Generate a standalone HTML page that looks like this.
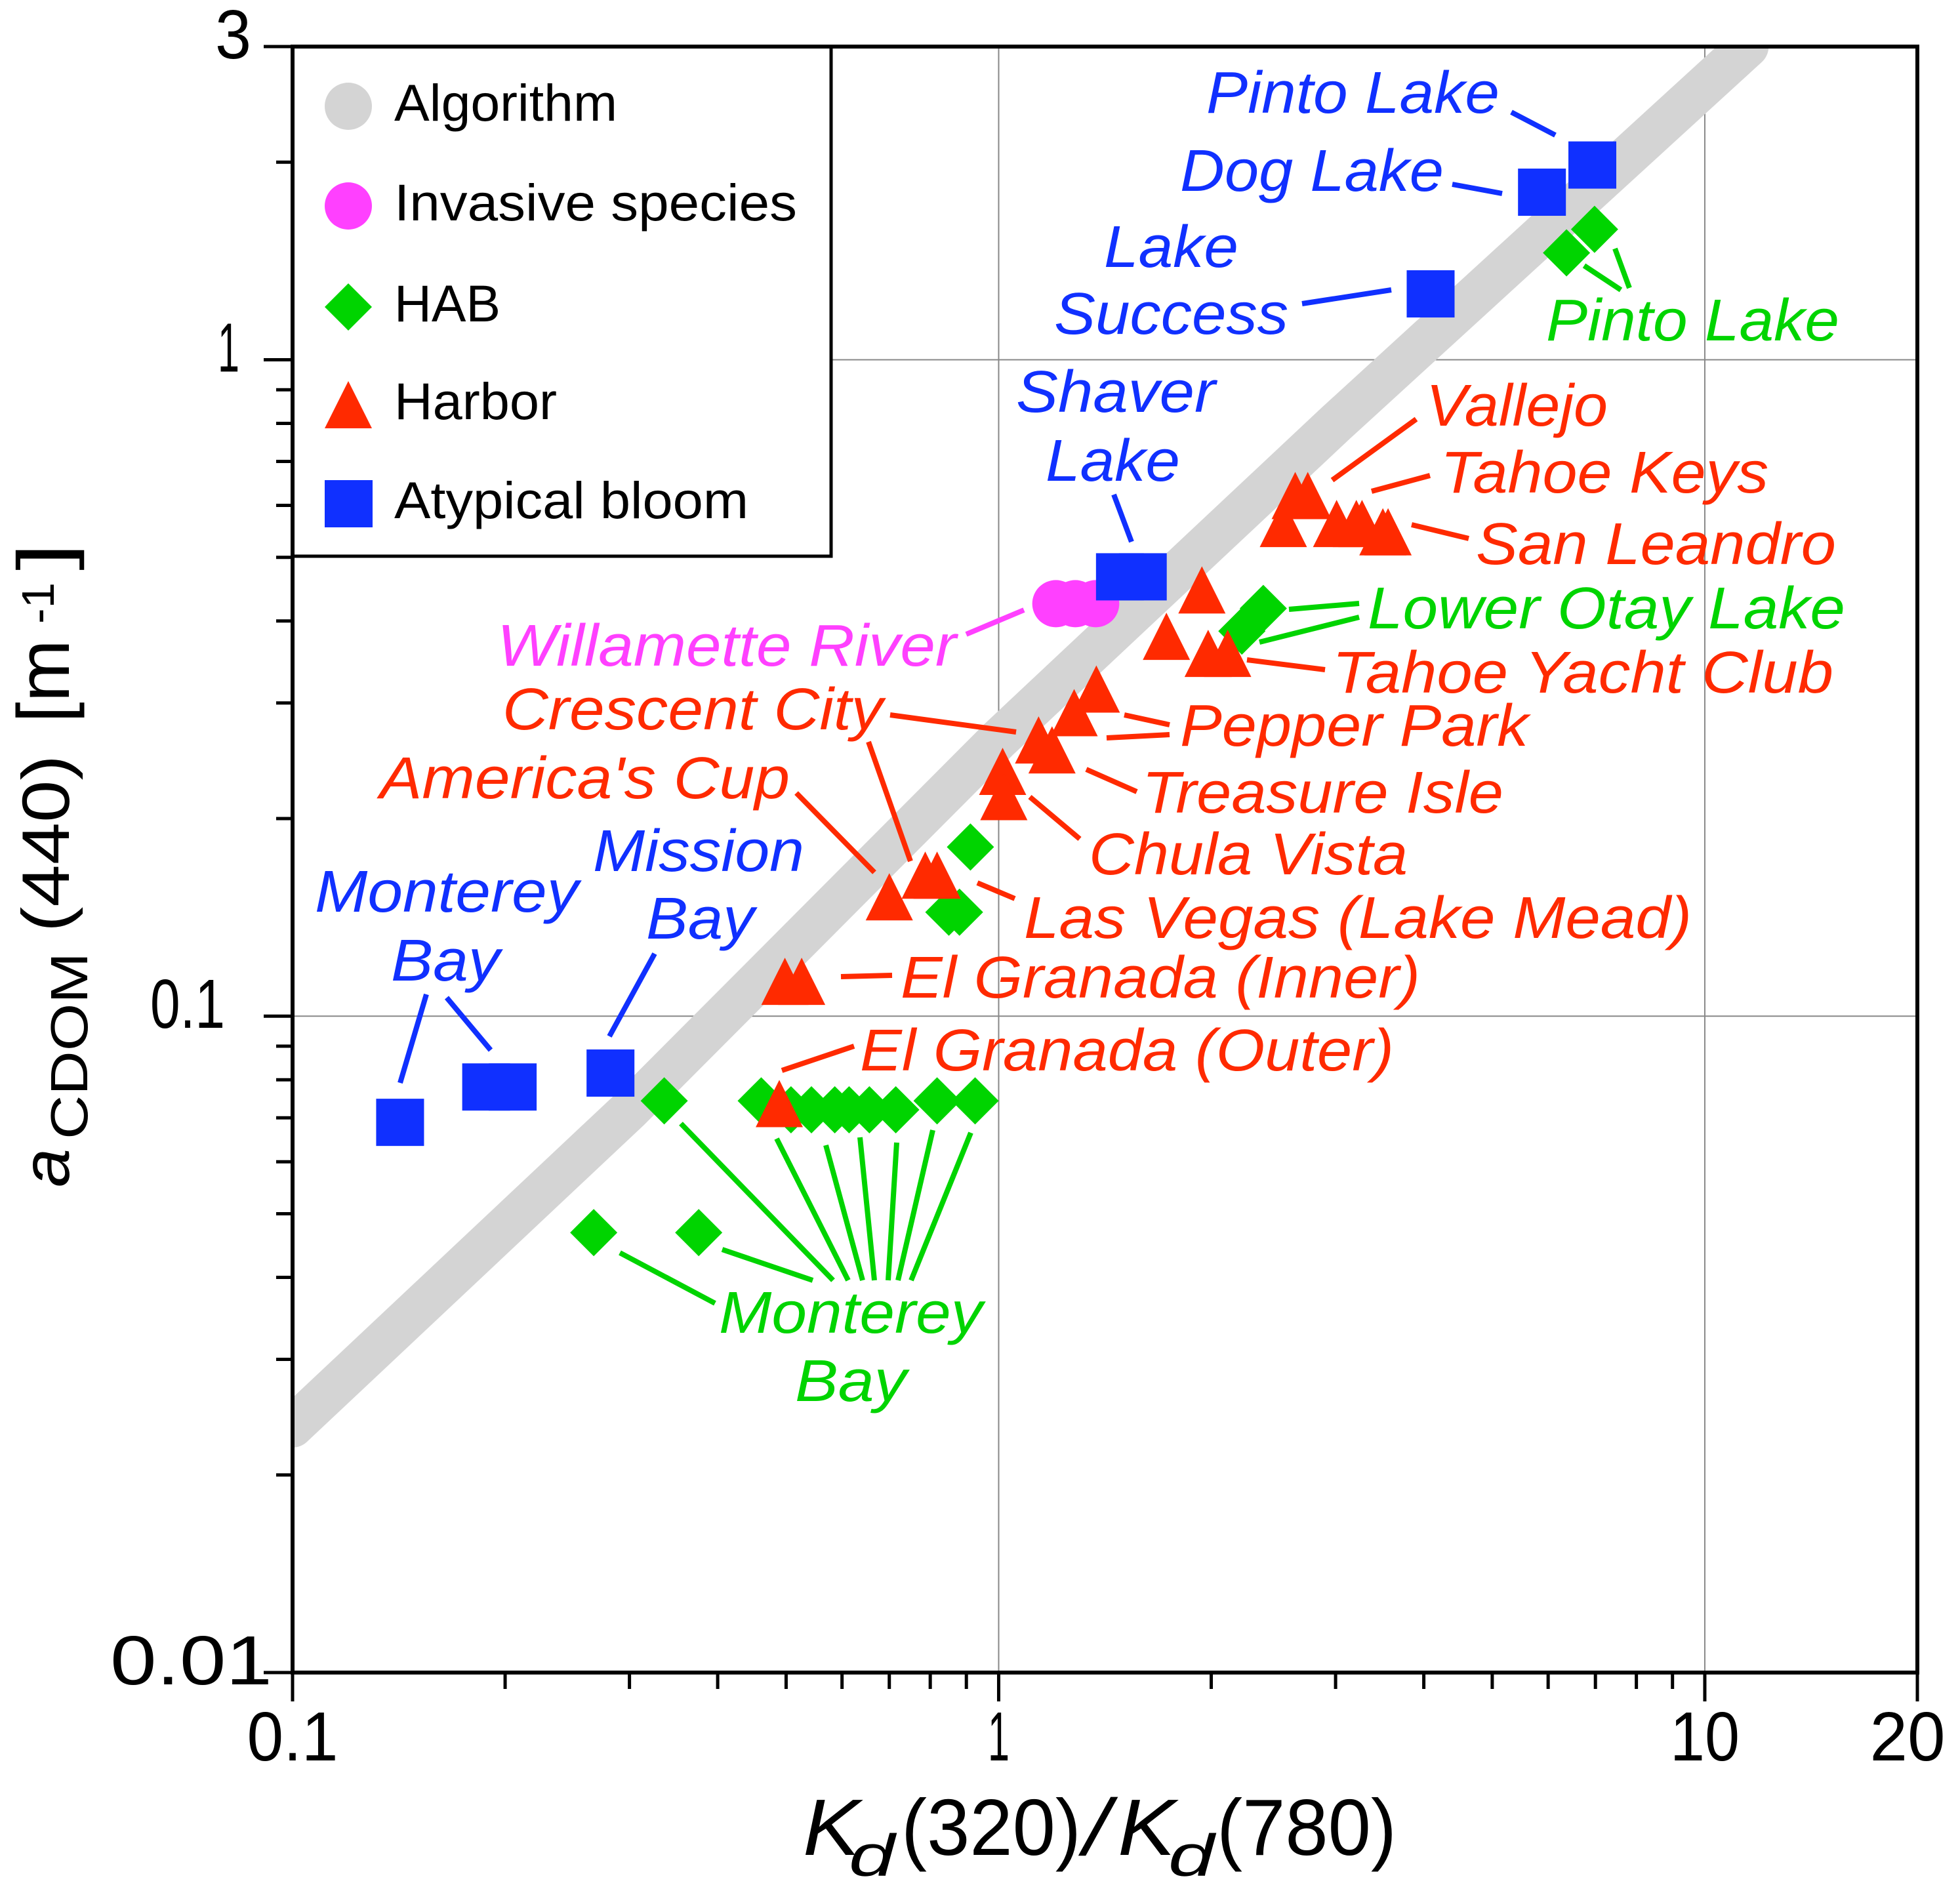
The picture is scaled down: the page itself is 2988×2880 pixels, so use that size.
<!DOCTYPE html>
<html><head><meta charset="utf-8"><style>
html,body{margin:0;padding:0;background:#fff;}
svg{display:block;}
text{font-family:"Liberation Sans",Arial,sans-serif;}
.lab{font-style:italic;font-size:90px;}
</style></head><body>
<svg id="chart" width="2988" height="2880" viewBox="0 0 2988 2880" xmlns="http://www.w3.org/2000/svg">
<defs><clipPath id="plotclip"><rect x="446" y="71" width="2477" height="2479"/></clipPath></defs>
<g id="grid"></g>
<g id="band" clip-path="url(#plotclip)"></g>
<g id="marks"></g>
<g id="leaders" stroke-width="8" stroke-linecap="butt" fill="none">
 <g stroke="#1030ff">
  <line x1="2304" y1="171" x2="2371" y2="206"/>
  <line x1="2214" y1="281" x2="2290" y2="295"/>
  <line x1="1985" y1="463" x2="2121" y2="442"/>
  <line x1="1698" y1="754" x2="1725" y2="826"/>
  <line x1="650" y1="1516" x2="610" y2="1651"/>
  <line x1="681" y1="1521" x2="748" y2="1601"/>
  <line x1="998" y1="1454" x2="929" y2="1580"/>
 </g>
 <g stroke="#00d400">
  <line x1="2415" y1="405" x2="2471" y2="442"/>
  <line x1="2462" y1="379" x2="2484" y2="439"/>
  <line x1="1965" y1="929" x2="2072" y2="920"/>
  <line x1="1920" y1="979" x2="2072" y2="941"/>
  <line x1="1038" y1="1713" x2="1270" y2="1952"/>
  <line x1="945" y1="1910" x2="1090" y2="1987"/>
  <line x1="1101" y1="1905" x2="1239" y2="1952"/>
  <line x1="1184" y1="1736" x2="1293" y2="1952"/>
  <line x1="1259" y1="1746" x2="1315" y2="1952"/>
  <line x1="1311" y1="1734" x2="1333" y2="1952"/>
  <line x1="1367" y1="1742" x2="1354" y2="1952"/>
  <line x1="1422" y1="1723" x2="1369" y2="1952"/>
  <line x1="1480" y1="1727" x2="1389" y2="1952"/>
 </g>
 <g stroke="#ff2a00">
  <line x1="2031" y1="732" x2="2159" y2="639"/>
  <line x1="2091" y1="749" x2="2180" y2="725"/>
  <line x1="2152" y1="800" x2="2239" y2="821"/>
  <line x1="1901" y1="1006" x2="2020" y2="1021"/>
  <line x1="1714" y1="1090" x2="1783" y2="1105"/>
  <line x1="1687" y1="1125" x2="1783" y2="1120"/>
  <line x1="1656" y1="1173" x2="1733" y2="1207"/>
  <line x1="1570" y1="1215" x2="1646" y2="1279"/>
  <line x1="1490" y1="1346" x2="1547" y2="1370"/>
  <line x1="1357" y1="1090" x2="1549" y2="1116"/>
  <line x1="1324" y1="1131" x2="1388" y2="1313"/>
  <line x1="1214" y1="1209" x2="1333" y2="1330"/>
  <line x1="1282" y1="1489" x2="1360" y2="1487"/>
  <line x1="1192" y1="1632" x2="1302" y2="1595"/>
 </g>
 <line stroke="#ff40ff" x1="1473" y1="967" x2="1561" y2="930"/>
</g>
<g id="labels">
 <g fill="#1030ff" class="lab">
  <text class="lab" x="1839" y="172" textLength="447" lengthAdjust="spacingAndGlyphs">Pinto Lake</text>
  <text class="lab" x="1799" y="291" textLength="402" lengthAdjust="spacingAndGlyphs">Dog Lake</text>
  <text class="lab" x="1683" y="407" textLength="205" lengthAdjust="spacingAndGlyphs">Lake</text>
  <text class="lab" x="1607" y="509" textLength="357" lengthAdjust="spacingAndGlyphs">Success</text>
  <text class="lab" x="1549" y="628" textLength="304" lengthAdjust="spacingAndGlyphs">Shaver</text>
  <text class="lab" x="1594" y="733" textLength="205" lengthAdjust="spacingAndGlyphs">Lake</text>
  <text class="lab" x="904" y="1328" textLength="322" lengthAdjust="spacingAndGlyphs">Mission</text>
  <text class="lab" x="985" y="1431" textLength="165" lengthAdjust="spacingAndGlyphs">Bay</text>
  <text class="lab" x="480" y="1390" textLength="402" lengthAdjust="spacingAndGlyphs">Monterey</text>
  <text class="lab" x="596" y="1495" textLength="166" lengthAdjust="spacingAndGlyphs">Bay</text>
 </g>
 <g fill="#00d400" class="lab">
  <text class="lab" x="2357" y="519" textLength="447" lengthAdjust="spacingAndGlyphs">Pinto Lake</text>
  <text class="lab" x="2085" y="958" textLength="728" lengthAdjust="spacingAndGlyphs">Lower Otay Lake</text>
  <text class="lab" x="1096" y="2032" textLength="402" lengthAdjust="spacingAndGlyphs">Monterey</text>
  <text class="lab" x="1212" y="2136" textLength="170" lengthAdjust="spacingAndGlyphs">Bay</text>
 </g>
 <text class="lab" fill="#ff40ff" x="758" y="1015" textLength="700" lengthAdjust="spacingAndGlyphs">Willamette River</text>
 <g fill="#ff2a00" class="lab">
  <text class="lab" x="2174" y="649" textLength="277" lengthAdjust="spacingAndGlyphs">Vallejo</text>
  <text class="lab" x="2196" y="751" textLength="500" lengthAdjust="spacingAndGlyphs">Tahoe Keys</text>
  <text class="lab" x="2250" y="860" textLength="549" lengthAdjust="spacingAndGlyphs">San Leandro</text>
  <text class="lab" x="2031" y="1056" textLength="764" lengthAdjust="spacingAndGlyphs">Tahoe Yacht Club</text>
  <text class="lab" x="1799" y="1137" textLength="531" lengthAdjust="spacingAndGlyphs">Pepper Park</text>
  <text class="lab" x="1741" y="1239" textLength="551" lengthAdjust="spacingAndGlyphs">Treasure Isle</text>
  <text class="lab" x="1660" y="1333" textLength="486" lengthAdjust="spacingAndGlyphs">Chula Vista</text>
  <text class="lab" x="1561" y="1430" textLength="1018" lengthAdjust="spacingAndGlyphs">Las Vegas (Lake Mead)</text>
  <text class="lab" x="1373" y="1521" textLength="792" lengthAdjust="spacingAndGlyphs">El Granada (Inner)</text>
  <text class="lab" x="1311" y="1632" textLength="814" lengthAdjust="spacingAndGlyphs">El Granada (Outer)</text>
  <text class="lab" x="766" y="1112" textLength="580" lengthAdjust="spacingAndGlyphs">Crescent City</text>
  <text class="lab" x="579" y="1217" textLength="625" lengthAdjust="spacingAndGlyphs">America's Cup</text>
 </g>
</g>
<g id="legend">
 <rect x="446" y="71" width="821" height="777" fill="#fff" stroke="#000" stroke-width="5"/>
 <circle cx="531" cy="162" r="36" fill="#d4d4d4"/>
 <text x="601" y="184" font-size="79" textLength="340" lengthAdjust="spacingAndGlyphs">Algorithm</text>
 <circle cx="531" cy="314" r="36" fill="#ff40ff"/>
 <text x="601" y="336" font-size="79" textLength="614" lengthAdjust="spacingAndGlyphs">Invasive  species</text>
 <polygon points="531,432 567,468 531,504 495,468" fill="#00d400"/>
 <text x="601" y="490" font-size="79" textLength="162" lengthAdjust="spacingAndGlyphs">HAB</text>
 <polygon points="531,581 567,653 495,653" fill="#ff2a00"/>
 <text x="601" y="639" font-size="79" textLength="248" lengthAdjust="spacingAndGlyphs">Harbor</text>
 <rect x="495" y="732" width="73" height="72" fill="#1030ff"/>
 <text x="601" y="790" font-size="79" textLength="540" lengthAdjust="spacingAndGlyphs">Atypical  bloom</text>
</g>
<g id="axes"></g>
<g id="titles">
 <g font-size="122">
  <text x="1224" y="2828" font-style="italic" textLength="87" lengthAdjust="spacingAndGlyphs">K</text>
  <text x="1294" y="2860" font-style="italic" font-size="90" textLength="70" lengthAdjust="spacingAndGlyphs">d</text>
  <text x="1374" y="2828" textLength="274" lengthAdjust="spacingAndGlyphs">(320)</text>
  <text x="1652" y="2828" font-style="italic" textLength="40" lengthAdjust="spacingAndGlyphs">/</text>
  <text x="1704" y="2828" font-style="italic" textLength="88" lengthAdjust="spacingAndGlyphs">K</text>
  <text x="1781" y="2860" font-style="italic" font-size="90" textLength="70" lengthAdjust="spacingAndGlyphs">d</text>
  <text x="1855" y="2828" textLength="274" lengthAdjust="spacingAndGlyphs">(780)</text>
 </g>
 <g transform="translate(105,1810) rotate(-90)" font-size="102">
  <text x="0" y="0" font-style="italic" textLength="59" lengthAdjust="spacingAndGlyphs">a</text>
  <text x="73" y="28" font-size="80" textLength="285" lengthAdjust="spacingAndGlyphs">CDOM</text>
  <text x="389" y="0" textLength="270" lengthAdjust="spacingAndGlyphs">(440)</text>
  <text x="708" y="0" font-size="112" textLength="127" lengthAdjust="spacingAndGlyphs">[m</text>
  <text x="859" y="-23" font-size="70" textLength="63" lengthAdjust="spacingAndGlyphs">-1</text>
  <text x="940" y="0" font-size="112" textLength="42" lengthAdjust="spacingAndGlyphs">]</text>
 </g>
</g>
</svg>
<script>
// ---- data ----
const algX = [0.1, 0.3, 1, 3, 11.5];
const algY = [0.0237, 0.072, 0.264, 0.80, 3.0];
const habX = [6.37, 6.98, 2.21, 2.37, 0.912, 0.850, 0.880, 0.336, 0.461, 0.508, 0.543, 0.586, 0.614, 0.656, 0.715, 0.818, 0.926, 0.267, 0.376];
const habY = [1.455, 1.58, 0.386, 0.418, 0.181, 0.144, 0.144, 0.0743, 0.0743, 0.072, 0.072, 0.072, 0.072, 0.072, 0.072, 0.0743, 0.0743, 0.0468, 0.0468];
const harborX = [0.489, 0.498, 0.526, 0.700, 0.787, 0.818, 1.013, 1.017, 1.139, 1.19, 1.279, 1.375, 1.728, 1.94, 1.98, 2.11, 2.63, 2.74, 2.53, 3.01, 3.21, 3.27, 3.50, 3.56];
const harborY = [0.0736, 0.113, 0.113, 0.152, 0.164, 0.164, 0.236, 0.216, 0.2635, 0.2545, 0.290, 0.315, 0.379, 0.446, 0.357, 0.357, 0.621, 0.621, 0.563, 0.563, 0.563, 0.563, 0.547, 0.547];
const invasiveX = [1.205, 1.284, 1.372];
const invasiveY = [0.425, 0.425, 0.425];
const bloomX = [0.142, 0.188, 0.205, 0.282, 1.485, 1.60, 4.09, 5.88, 6.93];
const bloomY = [0.0689, 0.078, 0.078, 0.0819, 0.467, 0.467, 1.26, 1.80, 1.98];
const xTickVals = [0.1, 1, 10, 20];
const xTickLabels = ["0.1", "1", "10", "20"];
const yTickVals = [0.01, 0.1, 1, 3];
const yTickLabels = ["0.01", "0.1", "1", "3"];

// ---- axes functions ----
const L = 446, R = 2923, T = 71, B = 2550;
const xMin = 0.1, xMax = 20, yMin = 0.01, yMax = 3;
function sx(v){ return L + (Math.log10(v) - Math.log10(xMin)) / (Math.log10(xMax) - Math.log10(xMin)) * (R - L); }
function sy(v){ return B - (Math.log10(v) - Math.log10(yMin)) / (Math.log10(yMax) - Math.log10(yMin)) * (B - T); }
const NS = "http://www.w3.org/2000/svg";
function mk(tag, parent){ const e = document.createElementNS(NS, tag); parent.appendChild(e); return e; }

// gridlines
const grid = document.getElementById('grid');
[1, 10].forEach(v => {
  const g = mk('line', grid);
  
  
  g.setAttribute('x1', sx(v)); g.setAttribute('x2', sx(v)); g.setAttribute('y1', T); g.setAttribute('y2', B);
  g.setAttribute('stroke', '#888'); g.setAttribute('stroke-width', '2');
});
[0.1, 1].forEach(v => {
  const g = mk('line', grid);
  
  
  g.setAttribute('x1', L); g.setAttribute('x2', R); g.setAttribute('y1', sy(v)); g.setAttribute('y2', sy(v));
  g.setAttribute('stroke', '#888'); g.setAttribute('stroke-width', '2');
});

// algorithm band
const band = document.getElementById('band');
const pl = mk('polyline', band);


pl.setAttribute('points', algX.map((x, i) => sx(x) + ',' + sy(algY[i])).join(' '));
pl.setAttribute('fill', 'none'); pl.setAttribute('stroke', '#d4d4d4');
pl.setAttribute('stroke-width', '64'); pl.setAttribute('stroke-linecap', 'round'); pl.setAttribute('stroke-linejoin', 'round');

const marks = document.getElementById('marks');
habX.forEach((x, i) => {
  const cx = sx(x), cy = sy(habY[i]);
  const p = mk('polygon', marks);
  
  
  p.setAttribute('points', `${cx},${cy-36} ${cx+36},${cy} ${cx},${cy+36} ${cx-36},${cy}`);
  p.setAttribute('fill', '#00d400');
});
harborX.forEach((x, i) => {
  const cx = sx(x), cy = sy(harborY[i]);
  const p = mk('polygon', marks);
  
  
  p.setAttribute('points', `${cx},${cy-36} ${cx+36},${cy+36} ${cx-36},${cy+36}`);
  p.setAttribute('fill', '#ff2a00');
});
invasiveX.forEach((x, i) => {
  const c = mk('circle', marks);
  
  
  c.setAttribute('cx', sx(x)); c.setAttribute('cy', sy(invasiveY[i])); c.setAttribute('r', 36);
  c.setAttribute('fill', '#ff40ff');
});
bloomX.forEach((x, i) => {
  const r = mk('rect', marks);
  
  
  r.setAttribute('x', sx(x) - 36.5); r.setAttribute('y', sy(bloomY[i]) - 36); r.setAttribute('width', 73); r.setAttribute('height', 72);
  r.setAttribute('fill', '#1030ff');
});

// axes frame + ticks
const axes = document.getElementById('axes');
const frame = mk('rect', axes);


frame.setAttribute('x', L); frame.setAttribute('y', T); frame.setAttribute('width', R - L); frame.setAttribute('height', B - T);
frame.setAttribute('fill', 'none'); frame.setAttribute('stroke', '#000'); frame.setAttribute('stroke-width', '6');
function tick(x1, y1, x2, y2, name){
  const t = mk('line', axes);
  
  
  t.setAttribute('x1', x1); t.setAttribute('y1', y1); t.setAttribute('x2', x2); t.setAttribute('y2', y2);
  t.setAttribute('stroke', '#000'); t.setAttribute('stroke-width', '5');
}
[0.1, 1, 10].forEach(d => { for (let k = 1; k <= 9; k++) { const v = d * k; if (v < xMin || v > xMax) continue; tick(sx(v), B, sx(v), B + (k === 1 ? 44 : 25), 'x-tick'); } });
tick(sx(20), B, sx(20), B + 44, 'x-tick');
[0.01, 0.1, 1].forEach(d => { for (let k = 1; k <= 9; k++) { const v = d * k; if (v < yMin || v > yMax) continue; tick(L, sy(v), L - (k === 1 ? 44 : 25), sy(v), 'y-tick'); } });
tick(L, sy(3), L - 44, sy(3), 'y-tick');

// tick labels
const xLabW = [139, 33, 106, 115];
xTickVals.forEach((v, i) => {
  const t = mk('text', axes);
  
  
  t.setAttribute('x', sx(v) - xLabW[i] / 2 + (i === 3 ? -15 : 0)); t.setAttribute('y', 2684);
  t.setAttribute('font-size', '106'); t.setAttribute('textLength', xLabW[i]); t.setAttribute('lengthAdjust', 'spacingAndGlyphs');
  t.textContent = xTickLabels[i];
});
const yLabX = [168, 229, 332, 328], yLabW = [247, 114, 33, 55];
yTickVals.forEach((v, i) => {
  const t = mk('text', axes);
  
  
  t.setAttribute('x', yLabX[i]); t.setAttribute('y', sy(v) + 18);
  t.setAttribute('font-size', '106'); t.setAttribute('textLength', yLabW[i]); t.setAttribute('lengthAdjust', 'spacingAndGlyphs');
  t.textContent = yTickLabels[i];
});
</script>
</body></html>
